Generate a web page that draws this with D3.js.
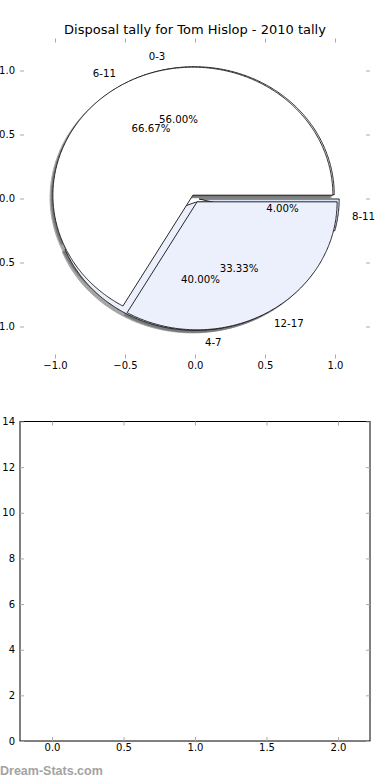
<!DOCTYPE html>
<html>
<head>
<meta charset="utf-8">
<script src="https://cdn.jsdelivr.net/npm/d3@7"></script>
<style>
  html, body { margin: 0; padding: 0; background: #fff; }
  svg { display: block; font-family: "DejaVu Sans", sans-serif; }
</style>
</head>
<body>
<div id="chart"></div>
<script>
// data
const titleText = 'Disposal tally for Tom Hislop - 2010 tally'
const groupsA = ['0-3', '4-7', '8-11']
const tallyA = [14, 10, 1]
const groupsB = ['6-11', '12-17']
const tallyB = [2, 1]
const pieTicks = [-1.0, -0.5, 0.0, 0.5, 1.0]
const barXTicks = [0.0, 0.5, 1.0, 1.5, 2.0]
const barYTicks = [0, 2, 4, 6, 8, 10, 12, 14]

const width = 390
const height = 780
const colorsA = ['#ffffff', '#ebf0fc', '#d9e3f8']
const colorsB = ['#ffffff', '#ebf0fc']
const explode = 0.03
const tickColor = '#aaa'

const svg = d3.select('#chart').append('svg')
  .attr('width', width)
  .attr('height', height)

// 제목
svg.append('text')
  .attr('x', 195)
  .attr('y', 34)
  .attr('text-anchor', 'middle')
  .attr('font-size', 13)
  .text(titleText)

// pie axes (frame off)
const px = d3.scaleLinear().domain([-1.25, 1.25]).range([20, 370])
const py = d3.scaleLinear().domain([-1.25, 1.25]).range([358.5, 38.5])

function drawTicks(g, xs, ys, xv, yv, xfmt, yfmt) {
  const [x0, x1] = xs.range()
  const [y0, y1] = ys.range()
  g.append('g').attr('transform', `translate(0,${y0})`)
    .call(d3.axisBottom(xs).tickValues(xv).tickFormat(xfmt).tickSizeInner(-4).tickSizeOuter(0).tickPadding(3))
  g.append('g').attr('transform', `translate(0,${y1})`)
    .call(d3.axisTop(xs).tickValues(xv).tickFormat('').tickSizeInner(-4).tickSizeOuter(0))
  g.append('g').attr('transform', `translate(${x0},0)`)
    .call(d3.axisLeft(ys).tickValues(yv).tickFormat(yfmt).tickSizeInner(-4).tickSizeOuter(0).tickPadding(5))
  g.append('g').attr('transform', `translate(${x1},0)`)
    .call(d3.axisRight(ys).tickValues(yv).tickFormat('').tickSizeInner(-4).tickSizeOuter(0))
  g.selectAll('.domain').remove()
  g.selectAll('.tick line').attr('stroke', tickColor)
  g.selectAll('.tick text')
    .attr('font-size', 10)
    .attr('font-family', '"DejaVu Sans", sans-serif')
    .attr('fill', '#000')
}

const pieAxes = svg.append('g')
drawTicks(pieAxes, px, py, pieTicks, pieTicks, d3.format('.1f'), d3.format('.1f'))

const pie = d3.pie().sort(null).startAngle(0).endAngle(2 * Math.PI)

// angles from d3.pie used as counter-clockwise from +x (matplotlib style)
function wedgeList(values, labels, colors) {
  const total = d3.sum(values)
  return pie(values).map((d, i) => {
    const mid = (d.startAngle + d.endAngle) / 2
    return {
      ...d,
      label: labels[i],
      pct: (100 * d.value / total).toFixed(2) + '%',
      color: colors[i],
      cx: explode * Math.cos(mid),
      cy: explode * Math.sin(mid),
      mid
    }
  })
}

function wedgePath(w, ox = 0, oy = 0) {
  const n = Math.max(2, Math.ceil((w.endAngle - w.startAngle) / 0.01))
  const pts = [[w.cx + ox, w.cy + oy]]
  for (let i = 0; i <= n; i++) {
    const t = w.startAngle + (w.endAngle - w.startAngle) * i / n
    pts.push([w.cx + ox + Math.cos(t), w.cy + oy + Math.sin(t)])
  }
  return d3.line().x(p => px(p[0])).y(p => py(p[1]))(pts) + 'Z'
}

const wedgesA = wedgeList(tallyA, groupsA, colorsA)
const wedgesB = wedgeList(tallyB, groupsB, colorsB)
const allWedges = wedgesA.concat(wedgesB)

// shadows under everything
svg.append('g')
  .selectAll('path')
  .data(allWedges)
  .join('path')
  .attr('d', w => wedgePath(w, -0.02, -0.02))
  .attr('fill', '#4d4d4d')
  .attr('stroke', '#4d4d4d')
  .attr('stroke-width', 1)
  .attr('opacity', 0.5)

// wedges
svg.append('g')
  .selectAll('path')
  .data(allWedges)
  .join('path')
  .attr('d', w => wedgePath(w))
  .attr('fill', w => w.color)
  .attr('stroke', '#111')
  .attr('stroke-width', 0.9)
  .attr('stroke-linejoin', 'round')

// labels + percentages
const textG = svg.append('g').attr('font-size', 10.2)
allWedges.forEach(w => {
  const lx = w.cx + 1.1 * Math.cos(w.mid)
  const ly = w.cy + 1.1 * Math.sin(w.mid)
  textG.append('text')
    .attr('x', px(lx))
    .attr('y', py(ly))
    .attr('dy', '0.35em')
    .attr('text-anchor', lx > 0 ? 'start' : 'end')
    .text(w.label)
  textG.append('text')
    .attr('x', px(w.cx + 0.6 * Math.cos(w.mid)))
    .attr('y', py(w.cy + 0.6 * Math.sin(w.mid)))
    .attr('dy', '0.35em')
    .attr('text-anchor', 'middle')
    .text(w.pct)
})

// empty bar axes below
const bx = d3.scaleLinear().domain([-0.224, 2.224]).range([20, 370])
const by = d3.scaleLinear().domain([0, 14]).range([741, 421.5])

const barAxes = svg.append('g')
barAxes.append('rect')
  .attr('x', 20)
  .attr('y', 421.5)
  .attr('width', 350)
  .attr('height', 741 - 421.5)
  .attr('fill', 'none')
  .attr('stroke', '#000')
  .attr('stroke-width', 1)
drawTicks(barAxes, bx, by, barXTicks, barYTicks, d3.format('.1f'), d3.format('d'))

// watermark
svg.append('text')
  .attr('x', 0)
  .attr('y', 775)
  .attr('font-family', '"Liberation Sans", Arial, sans-serif')
  .attr('font-size', 12.5)
  .attr('font-weight', 'bold')
  .attr('fill', '#a3a3a3')
  .text('Dream-Stats.com')
</script>
</body>
</html>
